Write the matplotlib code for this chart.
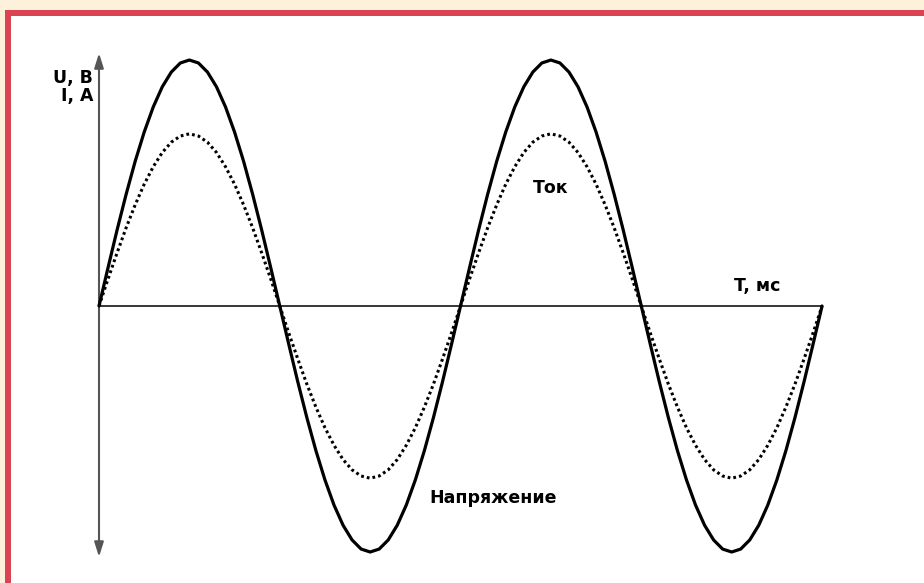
import numpy as np
import matplotlib
matplotlib.use("Agg")
import matplotlib.pyplot as plt
from matplotlib.patches import Rectangle

# Время, мс (два периода по 20 мс)
t_ms = np.arange(0, 40.5, 0.5)

# Напряжение (отн. ед., амплитуда = 1)
napryazhenie = [0.000, 0.156, 0.309, 0.454, 0.588, 0.707, 0.809, 0.891, 0.951, 0.988,
                1.000, 0.988, 0.951, 0.891, 0.809, 0.707, 0.588, 0.454, 0.309, 0.156,
                0.000, -0.156, -0.309, -0.454, -0.588, -0.707, -0.809, -0.891, -0.951, -0.988,
                -1.000, -0.988, -0.951, -0.891, -0.809, -0.707, -0.588, -0.454, -0.309, -0.156,
                0.000, 0.156, 0.309, 0.454, 0.588, 0.707, 0.809, 0.891, 0.951, 0.988,
                1.000, 0.988, 0.951, 0.891, 0.809, 0.707, 0.588, 0.454, 0.309, 0.156,
                0.000, -0.156, -0.309, -0.454, -0.588, -0.707, -0.809, -0.891, -0.951, -0.988,
                -1.000, -0.988, -0.951, -0.891, -0.809, -0.707, -0.588, -0.454, -0.309, -0.156,
                0.000]

# Ток (отн. ед., амплитуда ~0.70)
tok = [0.000, 0.110, 0.216, 0.318, 0.411, 0.495, 0.566, 0.624, 0.666, 0.691,
       0.700, 0.691, 0.666, 0.624, 0.566, 0.495, 0.411, 0.318, 0.216, 0.110,
       0.000, -0.110, -0.216, -0.318, -0.411, -0.495, -0.566, -0.624, -0.666, -0.691,
       -0.700, -0.691, -0.666, -0.624, -0.566, -0.495, -0.411, -0.318, -0.216, -0.110,
       0.000, 0.110, 0.216, 0.318, 0.411, 0.495, 0.566, 0.624, 0.666, 0.691,
       0.700, 0.691, 0.666, 0.624, 0.566, 0.495, 0.411, 0.318, 0.216, 0.110,
       0.000, -0.110, -0.216, -0.318, -0.411, -0.495, -0.566, -0.624, -0.666, -0.691,
       -0.700, -0.691, -0.666, -0.624, -0.566, -0.495, -0.411, -0.318, -0.216, -0.110,
       0.000]

podpisi = {"napr": "Напряжение", "tok": "Ток", "t": "T, мс",
           "u": "U, B", "i": "I, A"}

plt.rcParams.update({"font.family": "DejaVu Sans",
                     "font.size": 12.5,
                     "font.weight": "bold"})

fig = plt.figure(figsize=(9.24, 5.83), dpi=100, facecolor="#FEF1DC")

# Рамка: красная полоса и белое поле
fig.patches.append(Rectangle((5 / 924, 0), 1, (583 - 10) / 583,
                             transform=fig.transFigure, facecolor="#DA4352",
                             edgecolor="none", zorder=-10))
fig.patches.append(Rectangle((11 / 924, 0), 1, (583 - 16) / 583,
                             transform=fig.transFigure, facecolor="white",
                             edgecolor="none", zorder=-9))

ax = fig.add_axes([0, 0, 1, 1])
ax.set_facecolor("none")
ax.axis("off")

# Масштабы подобраны под картинку
ax.set_xlim(-5.477, 45.64)
ax.set_ylim(-1.126, 1.244)

# Ось времени
ax.plot([0, 40], [0, 0], color="black", linewidth=1.1, zorder=1)

# Вертикальная ось со стрелками
ax.annotate("", xy=(0, 1.028), xytext=(0, -1.02),
            arrowprops=dict(arrowstyle="<|-|>,head_length=0.7,head_width=0.22",
                            color="#555555", linewidth=1.5,
                            shrinkA=0, shrinkB=0))

ax.plot(t_ms, napryazhenie, color="black", linewidth=2.3,
        solid_joinstyle="round", solid_capstyle="round", zorder=3)
ax.plot(t_ms, tok, color="black", linewidth=2.2,
        linestyle=(0, (0.9, 1.0)), zorder=2)

ax.text(24.0, 0.459, podpisi["tok"], ha="left", va="baseline")
ax.text(18.26, -0.80, podpisi["napr"], ha="left", va="baseline")
ax.text(35.13, 0.061, podpisi["t"], ha="left", va="baseline")
ax.text(-0.33, 0.906, podpisi["u"], ha="right", va="baseline")
ax.text(-0.33, 0.834, podpisi["i"], ha="right", va="baseline")

fig.savefig("out.png", dpi=100, facecolor=fig.get_facecolor())
